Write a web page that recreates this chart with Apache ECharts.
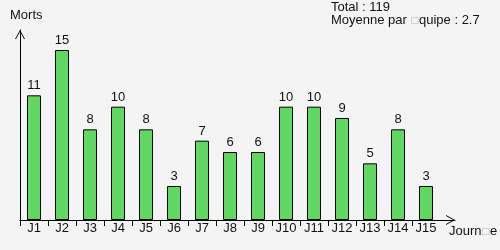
<!DOCTYPE html>
<html>
<head>
<meta charset="utf-8">
<script src="https://cdn.jsdelivr.net/npm/echarts@6/dist/echarts.min.js"></script>
<style>html,body{margin:0;padding:0;background:#f4f4f4;}#c{width:500px;height:250px;}</style>
</head>
<body>
<div id="c"></div>
<script>
const categories = ['J1','J2','J3','J4','J5','J6','J7','J8','J9','J10','J11','J12','J13','J14','J15'];
const deaths = [11, 15, 8, 10, 8, 3, 7, 6, 6, 10, 10, 9, 5, 8, 3];
const yTitle = 'Morts';
const xTitle = 'Journ{b|□}e';
const infoLines = ['Total : 119', 'Moyenne par {b|□}quipe : 2.7'];

const FONT = "'Liberation Sans', Arial, sans-serif";
const chevron = 'path://M5,0 L10,9 L9,9 L5,1.8 L1,9 L0,9 Z';
const tickValues = categories.map((c, i) => i);
const labelValues = categories.map((c, i) => i + 0.5);
const tofuRich = { b: { color: '#b4b4b4', fontSize: 9, fontFamily: 'DejaVu Sans' } };

const chart = echarts.init(document.getElementById('c'), null, { renderer: 'canvas' });
chart.setOption({
  backgroundColor: '#f4f4f4',
  animation: false,
  title: [
    { text: yTitle, left: 10, top: 9, padding: 0, textStyle: { fontFamily: FONT, fontSize: 13, fontWeight: 'normal', color: '#111' } },
    { text: infoLines.join('\n'), left: 331, top: 1, padding: 0, textStyle: { fontFamily: FONT, fontSize: 13, fontWeight: 'normal', color: '#111', lineHeight: 13, rich: tofuRich } },
    { text: xTitle, left: 449, top: 225, padding: 0, textStyle: { fontFamily: FONT, fontSize: 13, fontWeight: 'normal', color: '#111', rich: tofuRich } }
  ],
  grid: { left: 20, right: 45, top: 30, bottom: 30, containLabel: false },
  xAxis: {
    type: 'value', min: 0, max: 435 / 28,
    splitLine: { show: false },
    axisLine: { show: true, lineStyle: { color: '#000', width: 1 }, symbol: ['none', chevron], symbolSize: [10, 9], symbolOffset: [0, -4.5] },
    axisTick: { show: true, customValues: tickValues, length: 6, lineStyle: { color: '#000' } },
    axisLabel: { show: true, customValues: labelValues, margin: 2, fontFamily: FONT, fontSize: 13, color: '#111',
      formatter: v => categories[Math.round(v - 0.5)] }
  },
  yAxis: {
    type: 'value', min: 0, max: 15 * 190 / 170,
    splitLine: { show: false },
    axisLine: { show: true, lineStyle: { color: '#000', width: 1 }, symbol: ['none', chevron], symbolSize: [10, 9], symbolOffset: [0, -4.5] },
    axisTick: { show: false },
    axisLabel: { show: false }
  },
  series: [{
    type: 'bar',
    data: deaths.map((v, i) => [i + 0.5, v]),
    barWidth: 14,
    itemStyle: { color: '#60d860', borderColor: '#000', borderWidth: 1 },
    label: { show: true, position: 'top', distance: 3, fontFamily: FONT, fontSize: 13, color: '#111' }
  }]
});
</script>
</body>
</html>
